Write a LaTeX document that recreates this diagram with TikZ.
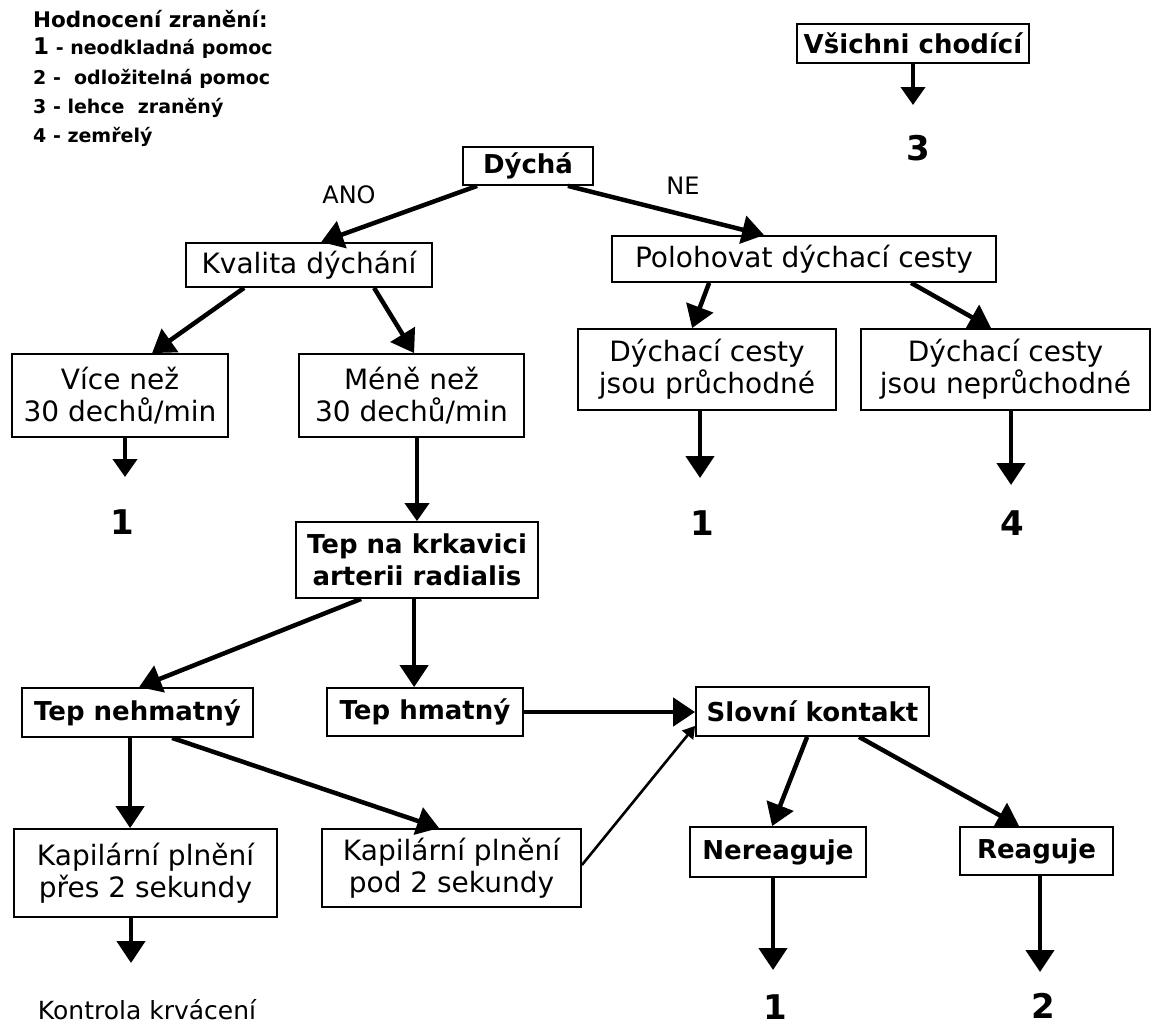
\documentclass[tikz,border=0pt]{standalone}
\usepackage{fontspec}
\setmainfont{DejaVu Sans}
\usetikzlibrary{arrows.meta,calc}
\begin{document}
\begin{tikzpicture}[x=1pt,y=-1pt,
  box/.style={draw, line width=1.8pt, inner sep=0pt, align=center},
  rg/.style={font=\fontsize{28}{32}\selectfont},
  bd/.style={font=\fontsize{26}{32}\selectfont\bfseries},
  num/.style={font=\fontsize{34}{40}\selectfont\bfseries, inner sep=0pt},
  lbl/.style={font=\fontsize{24}{28}\selectfont, inner sep=0pt},
  leg/.style={font=\fontsize{19}{22}\selectfont\bfseries, anchor=west, inner sep=0pt},
  arr/.style={-{Triangle[width=28pt,length=22pt]}, line width=4.5pt},
  arrs/.style={-{Triangle[width=24pt,length=18pt]}, line width=4pt},
  arrt/.style={-{Triangle[width=14pt,length=12pt]}, line width=2.6pt}]
\useasboundingbox (0,0) rectangle (1154,1028);
\fill[white] (0,0) rectangle (1154,1028);

% legend
\node[leg, font=\fontsize{21.5}{24}\selectfont\bfseries] (leg0) at (33,19) {Hodnocení zranění:};
\node[leg] (leg1) at (33,48) {{\fontsize{23}{24}\selectfont 1} - neodkladná pomoc};
\node[leg] (leg2) at (33,79) {2 -\ \ odložitelná pomoc};
\node[leg] (leg3) at (33,108) {3 - lehce\ \ zraněný};
\node[leg] (leg4) at (33,137) {4 - zemřelý};

% boxes
\node[box, bd, minimum width=232pt, minimum height=39pt] (allwalk) at (913,43.5) {Všichni chodící};
\node[num] (n3) at (918,148) {3};
\node[box, bd, minimum width=130pt, minimum height=38pt] (dycha) at (528,166) {Dýchá};
\node[lbl] (ano) at (349,195) {ANO};
\node[lbl] (ne) at (683,186) {NE};
\node[box, rg, minimum width=246pt, minimum height=44pt] (kval) at (309,265) {Kvalita dýchání};
\node[box, rg, minimum width=384pt, minimum height=46pt] (polo) at (804,259) {Polohovat dýchací cesty};
\node[box, rg, minimum width=216pt, minimum height=83pt] (vice) at (120,395.5) {Více než\\30 dechů/min};
\node[box, rg, minimum width=225pt, minimum height=83pt] (mene) at (411.5,395.5) {Méně než\\30 dechů/min};
\node[box, rg, minimum width=258pt, minimum height=81pt] (pruch) at (707,369.5) {Dýchací cesty\\jsou průchodné};
\node[box, rg, minimum width=289pt, minimum height=81pt] (nepruch) at (1005.5,369.5) {Dýchací cesty\\jsou neprůchodné};
\node[num] (n1a) at (122,522) {1};
\node[num] (n1b) at (702,523) {1};
\node[num] (n4) at (1012,523) {4};
\node[box, bd, minimum width=242pt, minimum height=76pt] (tepk) at (417,560) {Tep na krkavici\\arterii radialis};
\node[box, bd, minimum width=231pt, minimum height=49pt] (tepne) at (137.5,712.5) {Tep nehmatný};
\node[box, bd, minimum width=196pt, minimum height=48pt] (tephm) at (425,712) {Tep hmatný};
\node[box, bd, minimum width=233pt, minimum height=49pt] (slov) at (812.5,711.5) {Slovní kontakt};
\node[box, rg, minimum width=263pt, minimum height=88pt] (kapp) at (145.5,873) {Kapilární plnění\\přes 2 sekundy};
\node[box, rg, minimum width=259pt, minimum height=78pt] (kappod) at (451.5,868) {Kapilární plnění\\pod 2 sekundy};
\node[box, bd, minimum width=176pt, minimum height=50pt] (nere) at (778,852) {Nereaguje};
\node[box, bd, minimum width=153pt, minimum height=48pt] (reag) at (1036.5,851) {Reaguje};
\node[lbl, font=\fontsize{25}{28}\selectfont] (kontr) at (147,1010) {Kontrola krvácení};
\node[num] (n1c) at (775,1007) {1};
\node[num] (n2) at (1043,1006) {2};

% free arrow ends
\coordinate (t3) at (913,105);
\coordinate (t1a) at (125,477);
\coordinate (t1b) at (700,478);
\coordinate (t4) at (1011,485);
\coordinate (tk) at (131,963);
\coordinate (t1c) at (773,970);
\coordinate (t2) at (1040,972);

% connectors
\draw[arrs] (allwalk.south) -- (t3);
\draw[arr] ($(dycha.south west)+(15,0)$) -- ($(kval.north west)+(136,0)$);
\draw[arr] ($(dycha.south east)+(-26,0)$) -- ($(polo.north west)+(153,0)$);
\draw[arr] ($(kval.south west)+(59,0)$) -- ($(vice.north west)+(141,0)$);
\draw[arr] ($(kval.south west)+(189,0)$) -- ($(mene.north west)+(116,0)$);
\draw[arr] ($(polo.south west)+(98,0)$) -- ($(pruch.north west)+(115,0)$);
\draw[arr] ($(polo.south west)+(300,0)$) -- ($(nepruch.north west)+(131,0)$);
\draw[arrs] (vice.south -| t1a) -- (t1a);
\draw[arrs] (mene.south -| tepk.north) -- (tepk.north);
\draw[arr] (pruch.south -| t1b) -- (t1b);
\draw[arr] (nepruch.south -| t4) -- (t4);
\draw[arr] ($(tepk.south west)+(66,0)$) -- ($(tepne.north west)+(118,0)$);
\draw[arr] ($(tepk.south west)+(119,0)$) -- ($(tephm.north west)+(88,0)$);
\draw[arr] (tephm.east) -- (tephm.east -| slov.west);
\draw[arr] ($(tepne.south west)+(109,0)$) -- ($(kapp.north west)+(117,0)$);
\draw[arr] ($(tepne.south west)+(151,0)$) -- ($(kappod.north west)+(118,0)$);
\draw[arrt] ($(kappod.east)+(0,-3)$) -- ($(slov.south west)+(0,-11)$);
\draw[arr] (kapp.south -| tk) -- (tk);
\draw[arr] ($(slov.south west)+(112,0)$) -- ($(nere.north west)+(83,0)$);
\draw[arr] ($(slov.south west)+(164,0)$) -- ($(reag.north west)+(60,0)$);
\draw[arr] (nere.south -| t1c) -- (t1c);
\draw[arr] (reag.south -| t2) -- (t2);
\end{tikzpicture}
\end{document}
